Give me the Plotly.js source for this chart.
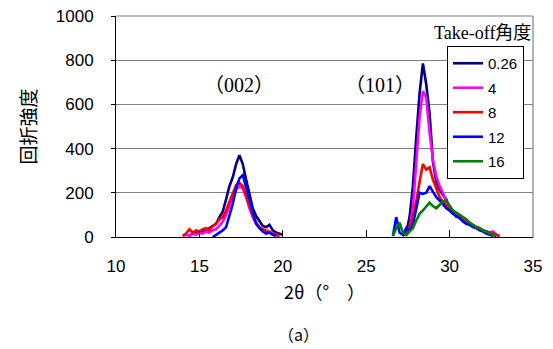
<!DOCTYPE html>
<html>
<head>
<meta charset="utf-8">
<script src="https://cdn.plot.ly/plotly-3.0.1.min.js"></script>
<style>html,body{margin:0;padding:0;background:#fff;}#chart{width:553px;height:349px;}</style>
</head>
<body>
<div id="chart"></div>
<script>
// 2θ positions (two measured regions, separated by a gap)
const theta1 = [13.8,14.0,14.2,14.4,14.6,14.8,15.0,15.2,15.4,15.6,15.8,16.0,16.2,16.4,16.6,16.8,17.0,17.2,17.4,17.6,17.8,18.0,18.2,18.4,18.6,18.8,19.0,19.2,19.4,19.6,19.8,20.0];
const theta2 = [26.6,26.8,27.0,27.2,27.4,27.6,27.8,28.0,28.2,28.4,28.6,28.8,29.0,29.2,29.4,29.6,29.8,30.0,30.2,30.4,30.6,30.8,31.0,31.2,31.4,31.6,31.8,32.0,32.2,32.4,32.6,32.8,33.0];

const seriesNames = ["0.26","4","8","12","16"];
const seriesColors = ["#000080","#FF00FF","#FF0000","#0000FF","#008000"];

// (002) region intensities
const a026_1 = [null,null,null,5,15,20,15,25,30,40,50,60,90,115,170,230,270,330,370,330,260,190,130,95,70,50,45,55,30,20,15,10];
const a4_1   = [null,5,10,5,15,10,20,15,25,20,30,35,50,70,100,140,185,215,230,220,180,130,90,60,40,30,20,25,15,10,5,null];
const a8_1   = [null,5,15,35,20,30,25,35,40,30,50,60,80,90,120,160,200,235,245,230,190,140,95,65,45,35,30,20,15,10,5,null];
const a12_1  = [null,null,null,null,null,null,null,null,null,null,0,10,20,30,45,95,150,220,265,280,230,170,110,60,40,25,15,20,10,5,null,null];
const a16_1  = [null,null,null,null,null,null,null,null,null,null,null,null,null,null,null,null,null,null,null,null,null,null,null,null,null,null,null,null,null,null,null,null];

// (101) region intensities
const a026_2 = [null,null,null,5,20,90,230,450,650,785,690,560,340,250,215,190,170,130,120,105,95,80,75,60,50,45,35,30,25,15,10,5,null];
const a4_2   = [null,null,null,null,5,40,130,320,540,660,630,470,350,275,230,200,160,120,110,100,95,85,70,65,50,45,40,30,25,20,25,10,5];
const a8_2   = [null,null,null,null,10,40,90,160,250,330,305,315,260,215,180,160,140,130,110,90,100,80,70,60,55,45,40,30,25,20,15,10,5];
const a12_2  = [5,90,20,10,40,30,55,120,200,195,200,230,205,180,165,150,130,120,105,95,85,70,60,55,45,40,30,25,15,10,5,null,null];
const a16_2  = [5,40,65,20,10,25,40,75,105,120,140,155,140,130,145,160,165,140,120,110,100,90,80,65,55,45,40,30,25,15,10,5,null];

const reg1 = [a026_1,a4_1,a8_1,a12_1,a16_1];
const reg2 = [a026_2,a4_2,a8_2,a12_2,a16_2];

const xAll = theta1.concat([null], theta2);
const traces = seriesNames.map((n,i)=>({
  x: xAll,
  y: reg1[i].concat([null], reg2[i]),
  type: "scatter", mode: "lines", name: n,
  legendgroup: "g"+i,
  connectgaps: false,
  line: {color: seriesColors[i], width: 2.6}
}));

const pw = 553-116-20, ph = 349-16-112;
const px2x = p => (p-116)/pw;
const py2y = p => (237-p)/ph;

const layout = {
  width: 553, height: 349,
  margin: {l:116, r:20, t:16, b:112},
  paper_bgcolor: "#fff", plot_bgcolor: "#fff",
  showlegend: true,
  legend: {
    x: px2x(447), y: py2y(46), xanchor: "left", yanchor: "top",
    bordercolor: "#000", borderwidth: 1, bgcolor: "#fff",
    font: {family: "Liberation Sans, Arial, sans-serif", size: 15, color: "#000"},
    tracegroupgap: 2, itemwidth: 30
  },
  xaxis: {
    range: [10,35], dtick: 5, tick0: 10,
    showgrid: false, zeroline: false,
    showline: true, linecolor: "#000", linewidth: 1,
    ticks: "inside", ticklen: 7, tickcolor: "#000",
    ticklabelstandoff: 14,
    tickfont: {family: "Liberation Sans, Arial, sans-serif", size: 17, color: "#000"},
    title: {text: "2θ（°　）", standoff: 10,
      font: {family: "Noto Sans CJK JP, sans-serif", size: 18, color: "#000"}}
  },
  yaxis: {
    range: [0,1000], dtick: 200,
    showgrid: true, gridcolor: "#808080", gridwidth: 1.2,
    zeroline: false,
    showline: true, linecolor: "#000", linewidth: 1,
    ticks: "outside", ticklen: 4, tickcolor: "#000",
    ticklabelstandoff: 14,
    tickfont: {family: "Liberation Sans, Arial, sans-serif", size: 17, color: "#000"},
    title: {text: "回折強度", standoff: 14,
      font: {family: "Noto Sans CJK JP, sans-serif", size: 19, color: "#000"}}
  },
  shapes: [
    {type:"line", xref:"paper", yref:"paper", x0:1, x1:1, y0:0, y1:1, line:{color:"#808080", width:1.2}},
    {type:"line", xref:"paper", yref:"paper", x0:0, x1:1, y0:1, y1:1, line:{color:"#808080", width:1.2}}
  ],
  annotations: [
    {text:"（002）", x:17.4, y:690, xref:"x", yref:"y", showarrow:false,
      font:{family:"Liberation Serif, Noto Sans CJK JP, serif", size:20, color:"#000"}},
    {text:"（101）", x:25.85, y:690, xref:"x", yref:"y", showarrow:false,
      font:{family:"Liberation Serif, Noto Sans CJK JP, serif", size:20, color:"#000"}},
    {text:"Take-off角度", x:1, y:py2y(33), xref:"paper", yref:"paper", xanchor:"right", yanchor:"middle", showarrow:false,
      font:{family:"Liberation Serif, Noto Sans CJK JP, serif", size:18, color:"#000"}},
    {text:"（a）", x:px2x(298), y:py2y(348), xref:"paper", yref:"paper", showarrow:false,
      font:{family:"Noto Sans CJK JP, sans-serif", size:16, color:"#000"}}
  ]
};

Plotly.newPlot("chart", traces, layout, {displayModeBar:false, staticPlot:true});
</script>
</body>
</html>
